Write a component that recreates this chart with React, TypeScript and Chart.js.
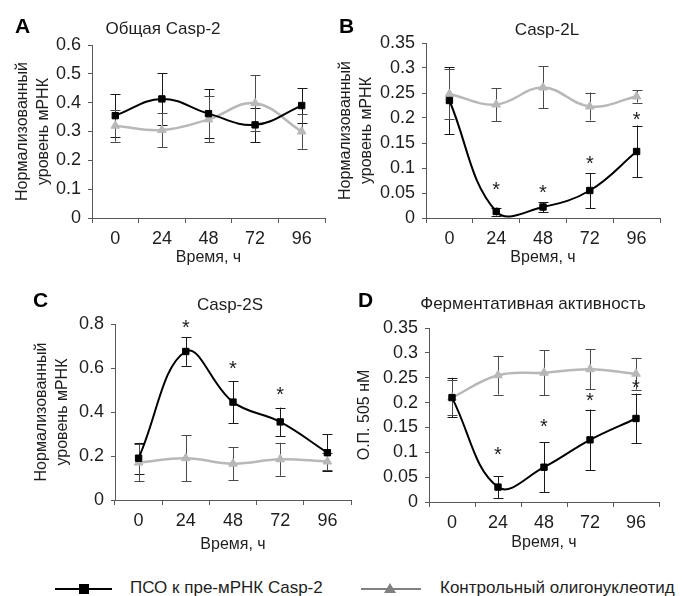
import React, { useEffect, useRef } from "react";
import { Chart, registerables } from "chart.js";

Chart.register(...registerables);

const FONT = "'Liberation Sans', Arial, sans-serif";
const TEXT = "#1e1e1e";
const AXIS = "#595959";

const hours = ["0", "24", "48", "72", "96"];

// A — Общая Casp-2
const aAso = [0.355, 0.413, 0.362, 0.323, 0.39];
const aAsoErr = [0.075, 0.09, 0.085, 0.06, 0.06];
const aCtrl = [0.32, 0.305, 0.342, 0.398, 0.3];
const aCtrlErr = [0.055, 0.06, 0.08, 0.097, 0.06];
const aStars: (number | null)[] = [null, null, null, null, null];
const aTicks = [0, 0.1, 0.2, 0.3, 0.4, 0.5, 0.6];

// B — Casp-2L
const bAso = [0.235, 0.013, 0.022, 0.055, 0.133];
const bAsoErr = [0.067, 0.008, 0.01, 0.035, 0.052];
const bCtrl = [0.248, 0.227, 0.261, 0.223, 0.243];
const bCtrlErr = [0.05, 0.033, 0.042, 0.028, 0.012];
const bStars: (number | null)[] = [null, 0.066, 0.06, 0.118, 0.206];
const bTicks = [0, 0.05, 0.1, 0.15, 0.2, 0.25, 0.3, 0.35];

// C — Casp-2S
const cAso = [0.19, 0.675, 0.445, 0.355, 0.215];
const cAsoErr = [0.07, 0.065, 0.095, 0.065, 0.085];
const cCtrl = [0.17, 0.19, 0.165, 0.185, 0.175];
const cCtrlErr = [0.085, 0.105, 0.075, 0.075, 0.04];
const cStars: (number | null)[] = [null, 0.805, 0.62, 0.5, null];
const cTicks = [0, 0.2, 0.4, 0.6, 0.8];

// D — Ферментативная активность
const dAso = [0.21, 0.03, 0.07, 0.125, 0.168];
const dAsoErr = [0.04, 0.022, 0.05, 0.061, 0.05];
const dCtrl = [0.21, 0.255, 0.26, 0.267, 0.258];
const dCtrlErr = [0.035, 0.039, 0.045, 0.04, 0.032];
const dStars: (number | null)[] = [null, 0.105, 0.161, 0.215, 0.241];
const dTicks = [0, 0.05, 0.1, 0.15, 0.2, 0.25, 0.3, 0.35];

const seriesNames = ["ПСО к пре-мРНК Casp-2", "Контрольный олигонуклеотид"];
const xTitle = "Время, ч";
const mrnaTitle = ["Нормализованный", "уровень мРНК"];
const odTitle = "О.П. 505 нМ";

const errorBarPlugin = {
  id: "errorBars",
  beforeDatasetsDraw(chart: any) {
    const { ctx } = chart;
    const yScale = chart.scales.y;
    chart.data.datasets.forEach((ds: any, i: number) => {
      const errs: number[] | undefined = ds.errors;
      if (!errs) return;
      const meta = chart.getDatasetMeta(i);
      ctx.save();
      ctx.strokeStyle = ds.errorColor;
      ctx.lineWidth = 1;
      meta.data.forEach((pt: any, j: number) => {
        const v = ds.data[j];
        const e = errs[j];
        const x = Math.round(pt.x) + 0.5;
        const yt = yScale.getPixelForValue(v + e);
        const yb = yScale.getPixelForValue(v - e);
        ctx.beginPath();
        ctx.moveTo(x, yt);
        ctx.lineTo(x, yb);
        ctx.moveTo(x - 5, Math.round(yt) + 0.5);
        ctx.lineTo(x + 5, Math.round(yt) + 0.5);
        ctx.moveTo(x - 5, Math.round(yb) + 0.5);
        ctx.lineTo(x + 5, Math.round(yb) + 0.5);
        ctx.stroke();
      });
      ctx.restore();
    });
  },
};

const starPlugin = {
  id: "stars",
  afterDatasetsDraw(chart: any, _args: any, opts: any) {
    const values: (number | null)[] = opts.values || [];
    const { ctx } = chart;
    const yScale = chart.scales.y;
    const xScale = chart.scales.x;
    ctx.save();
    ctx.font = `20px ${FONT}`;
    ctx.fillStyle = TEXT;
    ctx.textAlign = "center";
    ctx.textBaseline = "alphabetic";
    values.forEach((v, j) => {
      if (v === null) return;
      const x = xScale.getPixelForValue(j);
      const y = yScale.getPixelForValue(v) + 0.57 * 20;
      ctx.fillText("*", x, y);
    });
    ctx.restore();
  },
};

type Box = { left: number; top: number; width: number; height: number };
type Area = { left: number; top: number; right: number; bottom: number };

type PanelProps = {
  box: Box;
  area: Area;
  aso: number[];
  asoErr: number[];
  ctrl: number[];
  ctrlErr: number[];
  stars: (number | null)[];
  yTicks: number[];
  yTitle: string | string[];
  yTitleX: number;
  xTitleY: number;
};

function Panel(p: PanelProps) {
  const ref = useRef<HTMLCanvasElement | null>(null);
  useEffect(() => {
    if (!ref.current) return;
    const { box, area } = p;
    const yLh = 16 * 1.3;
    const xLh = 16 * 1.2;
    const chart = new Chart(ref.current, {
      type: "line",
      data: {
        labels: hours,
        datasets: [
          {
            label: seriesNames[0],
            data: p.aso,
            errors: p.asoErr,
            errorColor: "#1a1a1a",
            borderColor: "#000000",
            backgroundColor: "#000000",
            pointBorderColor: "#000000",
            borderWidth: 2,
            pointStyle: "rect",
            pointRadius: 4.5,
            pointBorderWidth: 1,
            tension: 0.4,
            order: 0,
          } as any,
          {
            label: seriesNames[1],
            data: p.ctrl,
            errors: p.ctrlErr,
            errorColor: "#4a4a4a",
            borderColor: "#b8b8b8",
            backgroundColor: "#b8b8b8",
            pointBorderColor: "#b8b8b8",
            borderWidth: 2.5,
            pointStyle: "triangle",
            pointRadius: 5,
            pointBorderWidth: 1,
            tension: 0.4,
            order: 1,
          } as any,
        ],
      },
      options: {
        responsive: false,
        animation: false,
        devicePixelRatio: 1,
        layout: {
          padding: {
            left: 0,
            top: area.top - box.top,
            right: box.left + box.width - area.right,
            bottom: 0,
          },
        },
        elements: { line: { capBezierPoints: false } },
        plugins: {
          legend: { display: false },
          tooltip: { enabled: false },
          title: { display: false },
          stars: { values: p.stars },
        } as any,
        scales: {
          x: {
            type: "category",
            offset: true,
            grid: {
              offset: true,
              display: true,
              drawOnChartArea: false,
              drawTicks: true,
              tickLength: 5,
              color: AXIS,
              lineWidth: 1,
            },
            border: { display: true, color: AXIS, width: 1 },
            ticks: {
              color: TEXT,
              font: { family: FONT, size: 18 },
              padding: 5,
              maxRotation: 0,
              autoSkip: false,
            },
            title: {
              display: true,
              text: xTitle,
              color: TEXT,
              font: { family: FONT, size: 16, lineHeight: 1.2 },
              padding: { top: 0, bottom: box.top + box.height - p.xTitleY - xLh / 2 },
            },
            afterFit: (s: any) => {
              s.height = box.top + box.height - area.bottom;
            },
          },
          y: {
            min: p.yTicks[0],
            max: p.yTicks[p.yTicks.length - 1],
            afterBuildTicks: (s: any) => {
              s.ticks = p.yTicks.map((v) => ({ value: v }));
            },
            grid: {
              display: true,
              drawOnChartArea: false,
              drawTicks: true,
              tickLength: 4,
              color: AXIS,
              lineWidth: 1,
            },
            border: { display: true, color: AXIS, width: 1 },
            ticks: {
              color: TEXT,
              font: { family: FONT, size: 18 },
              padding: 7,
              callback: (v: any) => String(v),
            },
            title: {
              display: true,
              text: p.yTitle,
              color: TEXT,
              font: { family: FONT, size: 16, lineHeight: 1.3 },
              padding: { top: p.yTitleX - box.left - yLh / 2, bottom: 0 },
            },
            afterFit: (s: any) => {
              s.width = area.left - box.left;
            },
          },
        },
      } as any,
      plugins: [errorBarPlugin, starPlugin],
    });
    return () => chart.destroy();
  }, []);
  return (
    <canvas
      ref={ref}
      width={p.box.width}
      height={p.box.height}
      style={{
        position: "absolute",
        left: p.box.left,
        top: p.box.top,
        width: p.box.width,
        height: p.box.height,
      }}
    />
  );
}

function Label(props: { text: string; cx?: number; left?: number; cy: number; size: number; bold?: boolean }) {
  const { text, cx, left, cy, size, bold } = props;
  const style: React.CSSProperties = {
    position: "absolute",
    top: cy - size * 0.5,
    fontFamily: FONT,
    fontSize: size,
    lineHeight: `${size}px`,
    fontWeight: bold ? "bold" : "normal",
    color: bold ? "#000" : TEXT,
    whiteSpace: "nowrap",
  };
  if (cx !== undefined) {
    style.left = cx - 200;
    style.width = 400;
    style.textAlign = "center";
  } else {
    style.left = left;
  }
  return <div style={style}>{text}</div>;
}

export default function App() {
  return (
    <div
      style={{
        position: "absolute",
        left: 0,
        top: 0,
        width: 682,
        height: 596,
        background: "#ffffff",
        overflow: "hidden",
      }}
    >
      <Panel
        box={{ left: 0, top: 0, width: 340, height: 280 }}
        area={{ left: 92, top: 45, right: 325, bottom: 218 }}
        aso={aAso}
        asoErr={aAsoErr}
        ctrl={aCtrl}
        ctrlErr={aCtrlErr}
        stars={aStars}
        yTicks={aTicks}
        yTitle={mrnaTitle}
        yTitleX={23}
        xTitleY={258}
      />
      <Panel
        box={{ left: 335, top: 0, width: 347, height: 280 }}
        area={{ left: 426, top: 43, right: 660, bottom: 218 }}
        aso={bAso}
        asoErr={bAsoErr}
        ctrl={bCtrl}
        ctrlErr={bCtrlErr}
        stars={bStars}
        yTicks={bTicks}
        yTitle={mrnaTitle}
        yTitleX={346}
        xTitleY={258}
      />
      <Panel
        box={{ left: 0, top: 280, width: 360, height: 290 }}
        area={{ left: 115, top: 324, right: 351, bottom: 500 }}
        aso={cAso}
        asoErr={cAsoErr}
        ctrl={cCtrl}
        ctrlErr={cCtrlErr}
        stars={cStars}
        yTicks={cTicks}
        yTitle={mrnaTitle}
        yTitleX={42}
        xTitleY={545}
      />
      <Panel
        box={{ left: 345, top: 280, width: 337, height: 290 }}
        area={{ left: 429, top: 328, right: 659, bottom: 502 }}
        aso={dAso}
        asoErr={dAsoErr}
        ctrl={dCtrl}
        ctrlErr={dCtrlErr}
        stars={dStars}
        yTicks={dTicks}
        yTitle={odTitle}
        yTitleX={365}
        xTitleY={543}
      />

      <Label text="A" left={15} cy={25} size={21} bold />
      <Label text="B" left={339} cy={25} size={21} bold />
      <Label text="C" left={33} cy={299} size={21} bold />
      <Label text="D" left={358} cy={299} size={21} bold />

      <Label text="Общая Casp-2" cx={163} cy={28} size={17} />
      <Label text="Casp-2L" cx={547} cy={29} size={17} />
      <Label text="Casp-2S" cx={230} cy={304} size={17} />
      <Label text="Ферментативная активность" cx={533} cy={303} size={17} />

      {/* legend */}
      <div style={{ position: "absolute", left: 55, top: 588, width: 57, height: 2, background: "#000" }} />
      <div style={{ position: "absolute", left: 79, top: 584, width: 10, height: 10, background: "#000" }} />
      <Label text={seriesNames[0]} left={130} cy={587} size={17} />
      <div style={{ position: "absolute", left: 361, top: 588, width: 60, height: 2, background: "#808080" }} />
      <div
        style={{
          position: "absolute",
          left: 384,
          top: 583,
          width: 0,
          height: 0,
          borderLeft: "6px solid transparent",
          borderRight: "6px solid transparent",
          borderBottom: "10px solid #808080",
        }}
      />
      <Label text={seriesNames[1]} left={440} cy={587} size={17} />
    </div>
  );
}
